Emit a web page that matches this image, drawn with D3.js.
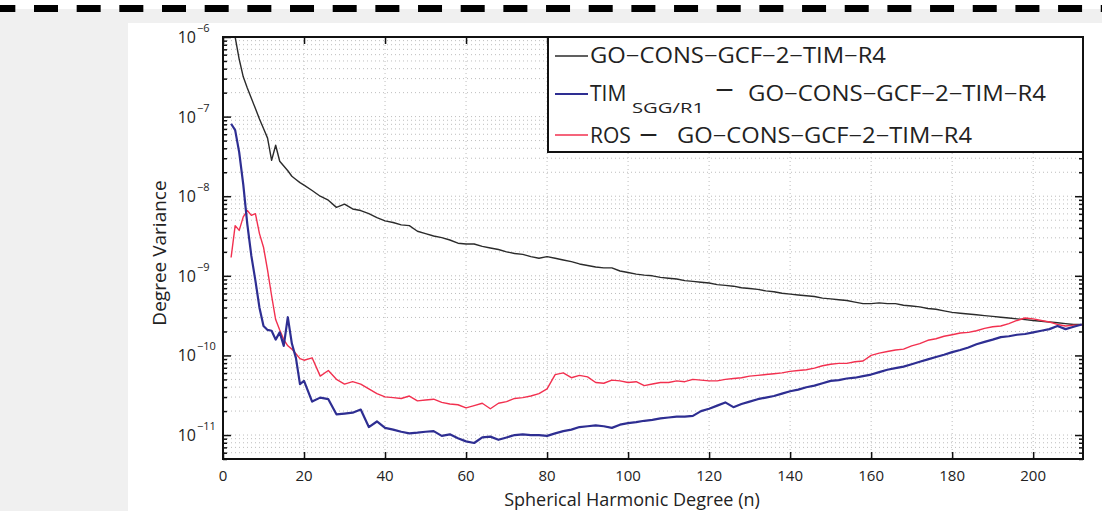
<!DOCTYPE html>
<meta charset="utf-8">
<html>
<style>
  body { margin: 0; background: #fff; }
  svg text { font-family: "Open Sans", "Noto Sans", sans-serif; fill: #222; }
</style>
<body>
<div id="plot"></div>
<script src="https://d3js.org/d3.v7.min.js"></script>
<script>
// ---- data ----
const degrees = [2,3,4,5,6,7,8,9,10,11,12,13,14,15,16,17,18,19,20,
  22,24,26,28,30,32,34,36,38,40,42,44,46,48,50,52,54,56,58,60,
  62,64,66,68,70,72,74,76,78,80,82,84,86,88,90,92,94,96,98,100,
  102,104,106,108,110,112,114,116,118,120,122,124,126,128,130,132,134,136,138,140,
  142,144,146,148,150,152,154,156,158,160,162,164,166,168,170,172,174,176,178,180,
  182,184,186,188,190,192,194,196,198,200,202,204,206,208,210,212];

// GO-CONS-GCF-2-TIM-R4
const goCons = [1.58e-6,1.00e-6,5.25e-7,3.16e-7,2.29e-7,1.70e-7,1.26e-7,9.33e-8,7.08e-8,5.37e-8,2.82e-8,4.37e-8,2.75e-8,2.40e-8,2.09e-8,1.78e-8,1.62e-8,1.48e-8,1.38e-8,
  1.18e-8,1.00e-8,8.91e-9,7.24e-9,7.94e-9,6.92e-9,6.61e-9,6.03e-9,5.37e-9,4.90e-9,
  4.68e-9,4.37e-9,4.27e-9,3.63e-9,3.39e-9,3.16e-9,3.02e-9,2.82e-9,2.57e-9,2.51e-9,
  2.51e-9,2.34e-9,2.24e-9,2.14e-9,2.00e-9,1.91e-9,1.86e-9,1.74e-9,1.66e-9,1.74e-9,
  1.66e-9,1.58e-9,1.51e-9,1.41e-9,1.35e-9,1.29e-9,1.26e-9,1.26e-9,1.15e-9,1.10e-9,
  1.05e-9,1.02e-9,1.00e-9,9.55e-10,9.33e-10,9.12e-10,8.71e-10,8.51e-10,8.32e-10,8.13e-10,
  7.76e-10,7.59e-10,7.41e-10,7.08e-10,6.92e-10,6.76e-10,6.46e-10,6.31e-10,6.03e-10,5.89e-10,
  5.75e-10,5.62e-10,5.50e-10,5.25e-10,5.13e-10,5.01e-10,4.90e-10,4.68e-10,4.47e-10,4.47e-10,
  4.57e-10,4.47e-10,4.47e-10,4.27e-10,4.17e-10,4.07e-10,3.89e-10,3.80e-10,3.63e-10,3.47e-10,
  3.39e-10,3.31e-10,3.24e-10,3.16e-10,3.09e-10,3.02e-10,2.95e-10,2.88e-10,2.82e-10,2.75e-10,
  2.69e-10,2.63e-10,2.57e-10,2.51e-10,2.45e-10,2.45e-10];

// TIM_SGG/R1 - GO-CONS-GCF-2-TIM-R4
const timDiff = [8.13e-8,6.76e-8,3.55e-8,1.41e-8,4.47e-9,1.78e-9,8.71e-10,3.98e-10,2.34e-10,2.09e-10,2.04e-10,1.58e-10,1.95e-10,1.32e-10,3.02e-10,1.41e-10,9.33e-11,4.37e-11,4.79e-11,
  2.63e-11,2.95e-11,2.82e-11,1.82e-11,1.86e-11,1.91e-11,2.09e-11,1.26e-11,1.48e-11,1.23e-11,
  1.17e-11,1.10e-11,1.05e-11,1.07e-11,1.10e-11,1.12e-11,9.77e-12,1.02e-11,9.12e-12,8.32e-12,
  7.94e-12,9.33e-12,9.55e-12,8.71e-12,9.33e-12,1.00e-11,1.02e-11,1.00e-11,1.00e-11,9.77e-12,
  1.05e-11,1.12e-11,1.17e-11,1.26e-11,1.29e-11,1.32e-11,1.29e-11,1.23e-11,1.35e-11,1.41e-11,
  1.45e-11,1.51e-11,1.55e-11,1.62e-11,1.66e-11,1.70e-11,1.70e-11,1.74e-11,2.00e-11,2.14e-11,
  2.34e-11,2.57e-11,2.24e-11,2.45e-11,2.63e-11,2.82e-11,2.95e-11,3.09e-11,3.31e-11,3.55e-11,
  3.72e-11,3.98e-11,4.17e-11,4.47e-11,4.79e-11,4.90e-11,5.13e-11,5.25e-11,5.50e-11,5.75e-11,
  6.17e-11,6.61e-11,6.92e-11,7.24e-11,7.76e-11,8.32e-11,8.91e-11,9.55e-11,1.02e-10,1.10e-10,
  1.17e-10,1.26e-10,1.38e-10,1.48e-10,1.58e-10,1.70e-10,1.74e-10,1.82e-10,1.86e-10,1.95e-10,
  2.04e-10,2.14e-10,2.34e-10,2.14e-10,2.29e-10,2.45e-10];

// ROS - GO-CONS-GCF-2-TIM-R4
const rosDiff = [1.70e-9,4.27e-9,3.72e-9,5.50e-9,6.61e-9,5.75e-9,6.03e-9,3.39e-9,2.29e-9,1.18e-9,5.62e-10,2.82e-10,2.09e-10,1.58e-10,1.32e-10,1.20e-10,1.05e-10,9.12e-11,8.71e-11,
  9.33e-11,5.50e-11,6.46e-11,5.01e-11,4.37e-11,4.68e-11,4.37e-11,3.80e-11,3.31e-11,3.02e-11,
  2.95e-11,2.88e-11,3.09e-11,2.69e-11,2.75e-11,2.82e-11,2.57e-11,2.45e-11,2.40e-11,2.19e-11,
  2.34e-11,2.51e-11,2.14e-11,2.51e-11,2.63e-11,2.88e-11,2.95e-11,3.09e-11,3.31e-11,3.80e-11,
  5.75e-11,6.03e-11,5.25e-11,5.62e-11,5.37e-11,4.57e-11,4.47e-11,4.90e-11,4.79e-11,4.57e-11,
  4.68e-11,4.17e-11,4.37e-11,4.57e-11,4.57e-11,4.79e-11,4.68e-11,5.01e-11,4.90e-11,4.79e-11,
  4.79e-11,5.01e-11,5.13e-11,5.25e-11,5.50e-11,5.62e-11,5.75e-11,5.89e-11,6.03e-11,6.31e-11,
  6.46e-11,6.61e-11,6.92e-11,7.41e-11,7.76e-11,7.94e-11,7.94e-11,8.32e-11,8.51e-11,1.00e-10,
  1.07e-10,1.12e-10,1.17e-10,1.20e-10,1.32e-10,1.41e-10,1.55e-10,1.62e-10,1.74e-10,1.82e-10,
  1.91e-10,1.95e-10,2.04e-10,2.19e-10,2.29e-10,2.34e-10,2.51e-10,2.75e-10,2.95e-10,2.88e-10,
  2.75e-10,2.63e-10,2.45e-10,2.34e-10,2.40e-10,2.40e-10];

const xTicks = [0,20,40,60,80,100,120,140,160,180,200];
const yExponents = [-6,-7,-8,-9,-10,-11];

// ---- layout ----
const W = 1102, H = 511;
const margin = {top: 37, right: 19, bottom: 52, left: 223};
const width = W - margin.left - margin.right,
      height = H - margin.top - margin.bottom;

const svgRoot = d3.select("#plot").append("svg")
  .attr("width", W).attr("height", H);

// page background, white panel, dashed rule
svgRoot.append("rect").attr("x", 0).attr("y", 9).attr("width", W).attr("height", H - 9).attr("fill", "#f0f0f0");
svgRoot.append("rect").attr("x", 128).attr("y", 23).attr("width", W - 128).attr("height", H - 23).attr("fill", "#fff");
svgRoot.append("line")
  .attr("x1", 0).attr("x2", W).attr("y1", 8.5).attr("y2", 8.5)
  .attr("stroke", "#000").attr("stroke-width", 7)
  .attr("stroke-dasharray", "24,18.67").attr("stroke-dashoffset", 8.67);

const svg = svgRoot.append("g")
  .attr("transform", "translate(" + margin.left + "," + margin.top + ")");

const x = d3.scaleLinear().domain([0, 212.3]).range([0, width]);
const y = d3.scaleLog().domain([5e-12, 1e-6]).range([height, 0]);

// minor log values within the domain
let minorVals = [];
for (let e = -12; e <= -7; e++) {
  for (let m = 1; m <= 9; m++) {
    const v = m * Math.pow(10, e);
    if (v >= 5e-12 && v <= 1e-6) minorVals.push(v);
  }
}
minorVals.push(1e-6);

// grid
svg.append("g").selectAll("line.hgrid")
  .data(minorVals)
  .join("line")
    .attr("x1", 0).attr("x2", width)
    .attr("y1", d => y(d)).attr("y2", d => y(d))
    .attr("stroke", "#bdbdbd").attr("stroke-width", 1)
    .attr("stroke-dasharray", "1,3");

svg.append("g").selectAll("line.vgrid")
  .data(xTicks.slice(1))
  .join("line")
    .attr("x1", d => x(d)).attr("x2", d => x(d))
    .attr("y1", 0).attr("y2", height)
    .attr("stroke", "#bdbdbd").attr("stroke-width", 1)
    .attr("stroke-dasharray", "1,3");

// lines
svg.append("clipPath").attr("id", "clip")
  .append("rect").attr("width", width).attr("height", height);

const line = d3.line()
  .x((d, i) => x(degrees[i]))
  .y(d => y(d));

const series = [
  {values: goCons, color: "#2b2b2b", w: 1.4},
  {values: rosDiff, color: "#f2304f", w: 1.4},
  {values: timDiff, color: "#2e2e92", w: 2.2}
];

svg.append("g").attr("clip-path", "url(#clip)")
  .selectAll("path")
  .data(series)
  .join("path")
    .attr("d", d => line(d.values))
    .attr("fill", "none")
    .attr("stroke", d => d.color)
    .attr("stroke-width", d => d.w)
    .attr("stroke-linejoin", "round");

// axes: ticks pointing inward, on all four sides
const axB = d3.axisBottom(x).tickValues(xTicks).tickSize(-7).tickFormat("");
const axT = d3.axisTop(x).tickValues(xTicks).tickSize(-7).tickFormat("");
svg.append("g").attr("transform", "translate(0," + height + ")").call(axB);
svg.append("g").call(axT);

const decades = yExponents.map(e => Math.pow(10, e));
const minorOnly = minorVals.filter(v => !decades.some(dv => Math.abs(dv - v) / dv < 1e-6));
svg.append("g").call(d3.axisLeft(y).tickValues(decades).tickSize(-8).tickFormat(""));
svg.append("g").call(d3.axisLeft(y).tickValues(minorOnly).tickSize(-4).tickFormat(""));
svg.append("g").attr("transform", "translate(" + width + ",0)")
  .call(d3.axisRight(y).tickValues(decades).tickSize(-8).tickFormat(""));
svg.append("g").attr("transform", "translate(" + width + ",0)")
  .call(d3.axisRight(y).tickValues(minorOnly).tickSize(-4).tickFormat(""));

svg.selectAll(".domain").remove();
svg.selectAll(".tick line").attr("stroke", "#111").attr("stroke-width", 1.5);

// frame
svg.append("rect").attr("width", width).attr("height", height)
  .attr("fill", "none").attr("stroke", "#111").attr("stroke-width", 2);

// x tick labels
svg.append("g").selectAll("text")
  .data(xTicks)
  .join("text")
    .attr("x", d => x(d)).attr("y", height + 22)
    .attr("text-anchor", "middle")
    .attr("font-size", 15)
    .text(d => d);

// y tick labels as 10^e
const yl = svg.append("g").selectAll("g")
  .data(yExponents)
  .join("g")
    .attr("transform", e => "translate(-27," + y(Math.pow(10, e)) + ")");
yl.append("text").attr("text-anchor", "end").attr("y", 6).attr("font-size", 16).text("10");
yl.append("text").attr("x", 1).attr("y", -5).attr("font-size", 11).text(e => "\u2212" + (-e));

// axis titles
svg.append("text")
  .attr("x", 409).attr("y", height + 47)
  .attr("text-anchor", "middle").attr("font-size", 18)
  .text("Spherical Harmonic Degree (n)");

svg.append("text")
  .attr("transform", "translate(-57," + 216 + ") rotate(-90)")
  .attr("text-anchor", "middle").attr("font-size", 19)
  .text("Degree Variance");

// legend
const lg = svgRoot.append("g");
lg.append("rect").attr("x", 548).attr("y", 37).attr("width", 1083 - 548).attr("height", 115)
  .attr("fill", "#fff").attr("stroke", "#111").attr("stroke-width", 2);

const legRows = [
  {color: "#2b2b2b", w: 1.4, y: 56},
  {color: "#2e2e92", w: 2.2, y: 94},
  {color: "#f2304f", w: 1.4, y: 135}
];
lg.selectAll("line.sample")
  .data(legRows)
  .join("line")
    .attr("x1", 555).attr("x2", 588)
    .attr("y1", d => d.y).attr("y2", d => d.y)
    .attr("stroke", d => d.color).attr("stroke-width", d => d.w);

const model = "GO\u2212CONS\u2212GCF\u22122\u2212TIM\u2212R4";
lg.append("text").attr("x", 590).attr("y", 63).attr("font-size", 21)
  .attr("textLength", 296).attr("lengthAdjust", "spacingAndGlyphs").text(model);

lg.append("text").attr("x", 590).attr("y", 101).attr("font-size", 21).text("TIM");
lg.append("text").attr("x", 632).attr("y", 113).attr("font-size", 15)
  .attr("textLength", 72).attr("lengthAdjust", "spacingAndGlyphs").text("SGG/R1");
lg.append("text").attr("x", 716).attr("y", 95).attr("font-size", 17).attr("font-weight", "bold").text("\u2014");
lg.append("text").attr("x", 748).attr("y", 101).attr("font-size", 21)
  .attr("textLength", 298).attr("lengthAdjust", "spacingAndGlyphs").text(model);

lg.append("text").attr("x", 590).attr("y", 143).attr("font-size", 21).text("ROS");
lg.append("text").attr("x", 640).attr("y", 140).attr("font-size", 17).attr("font-weight", "bold").text("\u2014");
lg.append("text").attr("x", 677).attr("y", 143).attr("font-size", 21)
  .attr("textLength", 295).attr("lengthAdjust", "spacingAndGlyphs").text(model);
</script>
</body>
</html>
